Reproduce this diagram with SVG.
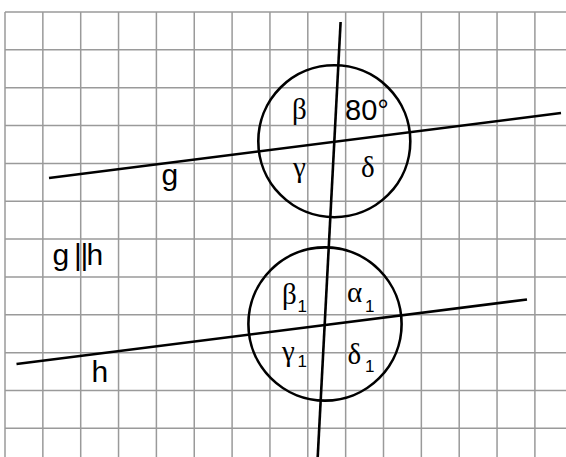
<svg xmlns="http://www.w3.org/2000/svg" width="566" height="457" viewBox="0 0 566 457">
<style>
.grid{stroke:#9a9a9a;stroke-width:1.5;fill:none}
.ln{stroke:#000;stroke-width:2.6;fill:none;stroke-linecap:butt}
.sans{font-family:"Liberation Sans",Arial,sans-serif;font-size:30px;fill:#000}
.gr{font-family:"Liberation Serif","Times New Roman",serif;font-size:29px;fill:#000}
.sub{font-family:"Liberation Sans",Arial,sans-serif;font-size:17px}
</style>
<rect width="566" height="457" fill="#fff"/>
<g id="grid" class="grid">
<path d="M5 12V457M42.85 12V457M80.7 12V457M118.55 12V457M156.4 12V457M194.25 12V457M232.1 12V457M269.95 12V457M307.8 12V457M345.65 12V457M383.5 12V457M421.35 12V457M459.2 12V457M497.05 12V457M534.9 12V457"/>
<path d="M5 12H566M5 49.85H566M5 87.7H566M5 125.55H566M5 163.4H566M5 201.25H566M5 239.1H566M5 276.95H566M5 314.8H566M5 352.65H566M5 390.5H566M5 428.35H566"/>
</g>
<g id="circles">
<circle id="circle-top" class="ln" cx="334.3" cy="141.2" r="76"/>
<circle id="circle-bottom" class="ln" cx="325" cy="324" r="76.6"/>
</g>
<g id="connectors">
<line id="line-g" class="ln" x1="49" y1="178" x2="561" y2="113"/>
<line id="line-h" class="ln" x1="16.5" y1="364" x2="527" y2="299.5"/>
<line id="transversal" class="ln" x1="340.6" y1="22" x2="317.7" y2="457"/>
</g>
<g id="labels">
<text id="beta" class="gr" x="292" y="118.5">β</text>
<text id="angle80" class="sans" x="345" y="120" style="font-size:29px">80°</text>
<text id="gamma" class="gr" x="293" y="177">γ</text>
<text id="delta" class="gr" x="361" y="176.5">δ</text>
<text id="label-g" class="sans" x="161.5" y="185">g</text>
<text id="label-gh" class="sans" x="52.5 74 80.5 86.5" y="265">g||h</text>
<text id="label-h" class="sans" x="91.5" y="381.5">h</text>
<text id="beta1" class="gr" x="282" y="304">β<tspan class="sub" x="297.5" y="311.5">1</tspan></text>
<text id="alpha1" class="gr" x="347" y="301.5">α<tspan class="sub" x="365" y="311.5">1</tspan></text>
<text id="gamma1" class="gr" x="282" y="361">γ<tspan class="sub" x="297.5" y="367">1</tspan></text>
<text id="delta1" class="gr" x="347.5" y="364">δ<tspan class="sub" x="365" y="371.5">1</tspan></text>
</g>
</svg>
